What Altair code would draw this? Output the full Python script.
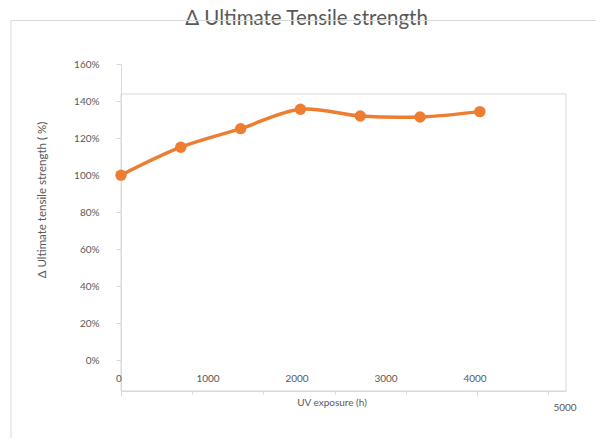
import altair as alt
import pandas as pd

hours = [0, 672, 1344, 2016, 2688, 3360, 4032]
uts = [100.0, 115.1, 125.1, 135.6, 131.9, 131.4, 134.3]
y_ticks = list(range(0, 161, 10))
x_ticks = list(range(0, 5001, 200))
x_labels_upper = [0, 1000, 2000, 3000, 4000]
x_labels_lower = [5000]
frame_top = 143.8
title_text = "Δ Ultimate Tensile strength"
y_title = "Δ Ultimate tensile strength ( %)"
x_title = "UV exposure (h)"

W, H = 445, 327
GRAY = "#D9D9D9"
TXT = "#595959"
ORANGE = "#ED7D31"
FONT = "Lato"

xs = alt.Scale(domain=[0, 5000], nice=False, zero=False)
ys = alt.Scale(domain=[-16.5, 160], nice=False, zero=False)

df = pd.DataFrame({"h": hours, "v": uts})
one = pd.DataFrame({"a": [0]})

x_axis = alt.Axis(
    values=x_ticks, labels=False, title=None, grid=False,
    domainColor=GRAY, tickColor=GRAY,
    tickSize={"condition": {"test": "datum.value % 1000 == 0", "value": 5}, "value": 3},
)
y_axis = alt.Axis(
    values=y_ticks, title=None, grid=False,
    labelExpr="datum.value % 20 == 0 ? datum.value + '%' : ''",
    domainColor=GRAY, tickColor=GRAY, tickSize=5, labelPadding=17,
    labelFont=FONT, labelFontSize=10, labelColor=TXT,
)

frame_df = pd.DataFrame({"x0": [0], "x1": [5000], "y0": [-16.5], "y1": [frame_top]})
frame = alt.Chart(frame_df).mark_rect(fill=None, stroke=GRAY, strokeWidth=1).encode(
    x=alt.X("x0:Q", scale=xs, axis=x_axis), x2="x1:Q",
    y=alt.Y("y0:Q", scale=ys, axis=y_axis), y2="y1:Q",
)

line = alt.Chart(df).mark_line(color=ORANGE, strokeWidth=3.5, interpolate="catmull-rom").encode(
    x=alt.X("h:Q", scale=xs), y=alt.Y("v:Q", scale=ys)
)
points = alt.Chart(df).mark_circle(color=ORANGE, size=130, opacity=1).encode(
    x=alt.X("h:Q", scale=xs), y=alt.Y("v:Q", scale=ys)
)

lab_up = alt.Chart(pd.DataFrame({"t": x_labels_upper})).mark_text(
    font=FONT, fontSize=10, color=TXT, baseline="middle", align="center", dx=-2
).encode(x=alt.X("t:Q", scale=xs), y=alt.value(315), text=alt.Text("t:Q", format="d"))
lab_low = alt.Chart(pd.DataFrame({"t": x_labels_lower})).mark_text(
    font=FONT, fontSize=10, color=TXT, baseline="middle", align="center", dx=-1
).encode(x=alt.X("t:Q", scale=xs), y=alt.value(344), text=alt.Text("t:Q", format="d"))

xt = alt.Chart(one).mark_text(font=FONT, fontSize=10, color=TXT, baseline="middle", align="center").encode(
    x=alt.value(211), y=alt.value(339), text=alt.value(x_title))
yt = alt.Chart(one).mark_text(font=FONT, fontSize=11.5, color=TXT, baseline="middle", align="center", angle=270).encode(
    x=alt.value(-78), y=alt.value(136), text=alt.value(y_title))
tt = alt.Chart(one).mark_text(font=FONT, fontSize=20.5, color=TXT, baseline="alphabetic", align="center").encode(
    x=alt.value(185.5), y=alt.value(-39), text=alt.value(title_text))

L, R, T, B = -110, 481, -43.5, 400
top_rule = alt.Chart(one).mark_rule(color=GRAY, strokeWidth=1).encode(
    x=alt.value(L), x2=alt.value(R), y=alt.value(T))
left_rule = alt.Chart(one).mark_rule(color=GRAY, strokeWidth=1).encode(
    x=alt.value(L), y=alt.value(T), y2=alt.value(B))
right_rule = alt.Chart(one).mark_rule(color=GRAY, strokeWidth=1).encode(
    x=alt.value(R), y=alt.value(T), y2=alt.value(B))

chart = alt.layer(
    frame, line, points, lab_up, lab_low, xt, yt, tt, top_rule, left_rule, right_rule
).properties(
    width=W, height=H, autosize="none",
    padding={"left": 113, "top": 56, "right": 30, "bottom": 47},
    background="white",
).configure_view(stroke=None)

chart.save("out.html", embed_options={"renderer": "svg", "actions": False})
